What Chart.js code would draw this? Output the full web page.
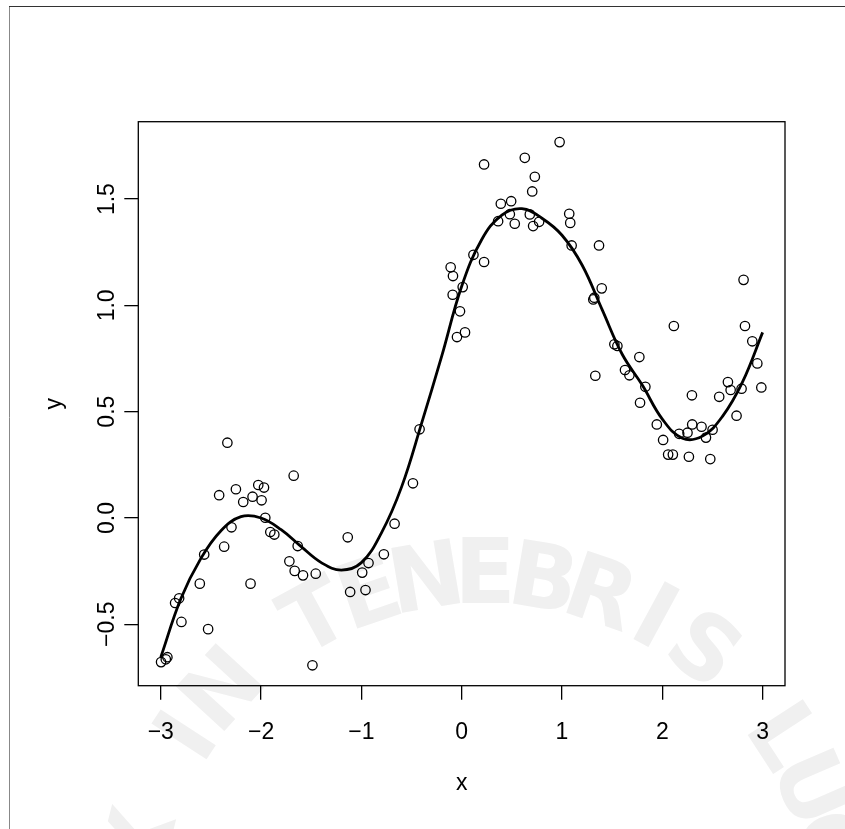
<!DOCTYPE html>
<html>
<head>
<meta charset="utf-8">
<script src="https://cdn.jsdelivr.net/npm/chart.js@4.4.1/dist/chart.umd.min.js"></script>
<style>
  html, body { margin: 0; padding: 0; background: #fff; }
  canvas { display: block; }
</style>
</head>
<body>
<canvas id="chart" width="845" height="829"></canvas>
<script>
const pointX = [
  -2.336, -1.675, -2.418, -2.251, -2.028, -1.971, -2.085, -2.178, -1.995, -1.958,
  -2.295, -1.908, -1.868, -1.635, -2.368, -2.567, -1.718, -1.665, -1.582, -1.455,
  -2.611, -2.105, -2.817, -2.857, -2.794, -2.528, -2.997, -2.934, -2.950, -1.488,
  -0.420, -0.486, -0.669, -1.136, -0.776, -0.929, -0.992, -1.112, -0.959,
  0.976, 0.223, 0.629, 0.729, 0.703, 0.390, 0.493, 0.480, 0.363, 0.529,
  0.679, 0.712, 0.772, 1.072, 1.082, 1.096, 1.369, 0.117, 0.223, -0.110,
  -0.087, 0.010, -0.090, 1.322, 1.312, 1.396, -0.017, -0.047, 0.033, 1.332,
  2.810, 2.115, 2.824, 2.897, 1.522, 1.552, 1.771, 2.947, 1.628, 1.672,
  2.654, 2.681, 2.790, 2.987, 1.831, 2.295, 2.567, 1.778, 2.740, 1.945,
  2.298, 2.391, 2.501, 2.168, 2.251, 2.435, 2.008, 2.058, 2.105, 2.265, 2.478
];
const pointY = [
  0.354, 0.199, 0.107, 0.135, 0.155, 0.143, 0.100, 0.075, 0.083, 0.001,
  -0.044, -0.066, -0.078, -0.132, -0.135, -0.172, -0.204, -0.249, -0.270, -0.262,
  -0.309, -0.309, -0.378, -0.400, -0.489, -0.523, -0.678, -0.655, -0.665, -0.693,
  0.417, 0.163, -0.027, -0.091, -0.171, -0.212, -0.257, -0.348, -0.339,
  1.768, 1.663, 1.694, 1.605, 1.536, 1.478, 1.490, 1.429, 1.396, 1.384,
  1.428, 1.373, 1.393, 1.431, 1.388, 1.282, 1.282, 1.238, 1.204, 1.179,
  1.138, 1.086, 1.050, 1.036, 1.028, 1.080, 0.972, 0.851, 0.873, 0.669,
  1.120, 0.903, 0.903, 0.831, 0.817, 0.809, 0.757, 0.727, 0.696, 0.671,
  0.639, 0.602, 0.608, 0.614, 0.617, 0.577, 0.570, 0.542, 0.481, 0.440,
  0.440, 0.429, 0.415, 0.396, 0.401, 0.378, 0.367, 0.298, 0.298, 0.288, 0.277
];

// fitted curve, sampled along x
const curveX = [-3, -2.8, -2.6, -2.4, -2.2, -2.0, -1.8, -1.6, -1.4, -1.2, -1.0, -0.8,
  -0.6, -0.4, -0.2, 0, 0.2, 0.4, 0.6, 0.8, 1.0, 1.2, 1.4, 1.6, 1.8, 2.0, 2.2, 2.4, 2.6, 2.8, 3.0];
const curveY = [-0.655, -0.38, -0.19, -0.06, 0.006, 0.0, -0.055, -0.135, -0.21, -0.245, -0.21, -0.07,
  0.145, 0.445, 0.76, 1.09, 1.31, 1.425, 1.455, 1.41, 1.33, 1.19, 0.98, 0.77, 0.625, 0.465, 0.375, 0.385, 0.478, 0.64, 0.873];

const xTicks = [-3, -2, -1, 0, 1, 2, 3];
const xTickLabels = ['\u22123', '\u22122', '\u22121', '0', '1', '2', '3'];
const yTicks = [-0.5, 0, 0.5, 1.0, 1.5];
const yTickLabels = ['\u22120.5', '0.0', '0.5', '1.0', '1.5'];

// faint watermark text behind the plot
const watermarkText = 'LUX IN TENEBRIS LUCET';

const fontFamily = '"Liberation Sans", Arial, Helvetica, sans-serif';
const axisFont = { family: fontFamily, size: 23 };

// page frame, watermark and the box round the plot region
const framePlugin = {
  id: 'frame',
  beforeDraw(chart) {
    const ctx = chart.ctx;
    ctx.save();
    ctx.fillStyle = '#fff';
    ctx.fillRect(0, 0, chart.width, chart.height);

    // watermark letters along an arc
    const cx = 485, cy = 930, r = 350;
    ctx.fillStyle = '#f0f0f0';
    ctx.font = 'bold 90px "DejaVu Sans", sans-serif';
    ctx.textAlign = 'center';
    ctx.textBaseline = 'middle';
    const mid = (watermarkText.length - 1) / 2;
    for (let i = 0; i < watermarkText.length; i++) {
      const ang = (-90 + (i - mid) * 9.5) * Math.PI / 180;
      ctx.save();
      ctx.translate(cx + r * Math.cos(ang), cy + r * Math.sin(ang));
      ctx.rotate(ang + Math.PI / 2);
      ctx.fillText(watermarkText[i], 0, 0);
      ctx.restore();
    }

    ctx.lineWidth = 1;
    ctx.strokeStyle = '#888';
    ctx.beginPath();
    ctx.moveTo(9.5, 6);
    ctx.lineTo(9.5, chart.height);
    ctx.stroke();
    ctx.strokeStyle = '#333';
    ctx.beginPath();
    ctx.moveTo(9, 6.5);
    ctx.lineTo(chart.width, 6.5);
    ctx.stroke();
    ctx.restore();
  },
  afterDraw(chart) {
    const a = chart.chartArea;
    const ctx = chart.ctx;
    ctx.save();
    ctx.strokeStyle = '#000';
    ctx.lineWidth = 1.3;
    ctx.strokeRect(a.left, a.top, a.right - a.left, a.bottom - a.top);
    ctx.restore();
  }
};

const points = pointX.map((x, i) => ({ x: x, y: pointY[i] }));
const curve = curveX.map((x, i) => ({ x: x, y: curveY[i] }));

new Chart(document.getElementById('chart'), {
  type: 'scatter',
  data: {
    datasets: [
      {
        data: points,
        pointStyle: 'circle',
        pointRadius: 4.7,
        borderWidth: 1.3,
        borderColor: '#000',
        backgroundColor: 'rgba(0,0,0,0)',
        showLine: false
      },
      {
        data: curve,
        showLine: true,
        pointRadius: 0,
        borderColor: '#000',
        borderWidth: 2.8,
        tension: 0.4,
        fill: false
      }
    ]
  },
  options: {
    responsive: false,
    devicePixelRatio: 1,
    animation: false,
    layout: { padding: { top: 121.7, right: 60, bottom: 0, left: 0 } },
    plugins: { legend: { display: false }, tooltip: { enabled: false } },
    scales: {
      x: {
        type: 'linear',
        min: -3.224,
        max: 3.223,
        afterBuildTicks: s => { s.ticks = xTicks.map(v => ({ value: v })); },
        afterFit: s => { s.height = 143.3; },
        ticks: {
          callback: (v, i) => xTickLabels[i],
          font: axisFont,
          color: '#000',
          padding: 19,
          maxRotation: 0,
          autoSkip: false
        },
        grid: { drawOnChartArea: false, drawTicks: true, tickLength: 14, color: '#000', lineWidth: 1.3 },
        border: { display: false },
        title: { display: true, text: 'x', font: axisFont, color: '#000', padding: { top: 0, bottom: 32 } }
      },
      y: {
        type: 'linear',
        min: -0.789,
        max: 1.864,
        afterBuildTicks: s => { s.ticks = yTicks.map(v => ({ value: v })); },
        afterFit: s => { s.width = 138.3; },
        ticks: {
          callback: (v, i) => yTickLabels[i],
          font: axisFont,
          color: '#000',
          padding: -6,
          minRotation: 90,
          maxRotation: 90,
          crossAlign: 'center',
          autoSkip: false
        },
        grid: { drawOnChartArea: false, drawTicks: true, tickLength: 14, color: '#000', lineWidth: 1.3 },
        border: { display: false },
        title: { display: true, text: 'y', font: axisFont, color: '#000', padding: { top: 41, bottom: 0 } }
      }
    }
  },
  plugins: [framePlugin]
});
</script>
</body>
</html>
